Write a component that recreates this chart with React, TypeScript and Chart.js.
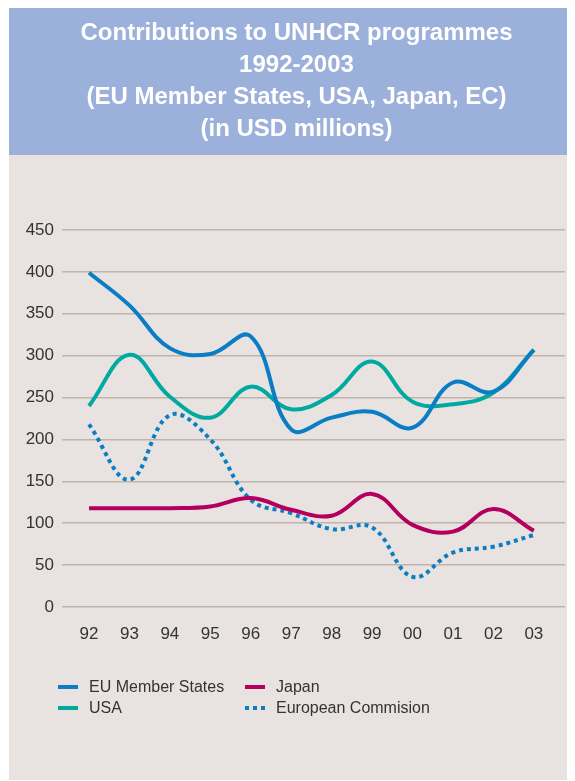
import React, { useEffect, useRef } from "react";
import { Chart, registerables } from "chart.js";

Chart.register(...registerables);

const years = ["92", "93", "94", "95", "96", "97", "98", "99", "00", "01", "02", "03"];
const euMemberStates = [399, 360, 309, 302, 323, 212, 226, 233, 214, 268, 257, 307];
const usa = [240, 301, 251, 226, 263, 236, 253, 293, 245, 242, 256, 307];
const japan = [118, 118, 118, 120, 130, 116, 109, 135, 98, 90, 117, 91];
const europeanCommision = [218, 152, 229, 200, 128, 112, 93, 95, 36, 65, 72, 86];
const yTicks = [0, 50, 100, 150, 200, 250, 300, 350, 400, 450];
const titleLines = [
  "Contributions to UNHCR programmes",
  "1992-2003",
  "(EU Member States, USA, Japan, EC)",
  "(in USD millions)",
];

const BLUE = "#0a7dc4";
const TEAL = "#00aaa0";
const MAGENTA = "#b3005e";
const BANNER = "#9bb0da";
const PANEL = "#e8e3e1";
const GRID = "#bfb3ae";
const TEXT = "#333333";
const FONT = "'Liberation Sans', Arial, sans-serif";

const toPoints = (vals: number[]) => vals.map((v, i) => ({ x: i, y: v }));

const backgroundPlugin = {
  id: "panelBackground",
  beforeDraw(chart: any) {
    const { ctx, width, height } = chart;
    ctx.save();
    ctx.fillStyle = PANEL;
    ctx.fillRect(0, 0, width, height);
    ctx.fillStyle = BANNER;
    ctx.fillRect(0, 0, width, 151);
    ctx.restore();
  },
};

const gridLegendPlugin = {
  id: "gridLegend",
  afterDraw(chart: any) {
    const { ctx } = chart;
    const order = [0, 2, 1, 3];
    const cols = [49, 236];
    const rows = [683, 704];
    ctx.save();
    ctx.font = `16px ${FONT}`;
    ctx.textBaseline = "middle";
    ctx.fillStyle = TEXT;
    order.forEach((dsIndex, k) => {
      const ds = chart.data.datasets[dsIndex];
      const col = cols[k % 2];
      const row = rows[Math.floor(k / 2)];
      ctx.save();
      ctx.strokeStyle = ds.borderColor;
      ctx.lineWidth = 4;
      ctx.lineCap = "butt";
      if (ds.borderDash && ds.borderDash.length) ctx.setLineDash(ds.borderDash);
      ctx.beginPath();
      ctx.moveTo(col, row);
      ctx.lineTo(col + 20, row);
      ctx.stroke();
      ctx.restore();
      ctx.fillStyle = TEXT;
      ctx.fillText(ds.label, col + 31, row + 1);
    });
    ctx.restore();
  },
};

export default function App() {
  const canvasRef = useRef<HTMLCanvasElement | null>(null);

  useEffect(() => {
    if (!canvasRef.current) return;
    const lineDs = (label: string, data: number[], color: string, dash?: number[]) => ({
      label,
      data: toPoints(data),
      borderColor: color,
      backgroundColor: color,
      borderWidth: 4,
      borderDash: dash || [],
      borderCapStyle: "butt" as const,
      pointRadius: 0,
      tension: 0.4,
      fill: false,
    });
    const chart = new Chart(canvasRef.current, {
      type: "line",
      data: {
        datasets: [
          lineDs("EU Member States", euMemberStates, BLUE),
          lineDs("USA", usa, TEAL),
          lineDs("Japan", japan, MAGENTA),
          lineDs("European Commision", europeanCommision, BLUE, [4, 4]),
        ],
      },
      plugins: [backgroundPlugin, gridLegendPlugin],
      options: {
        animation: false,
        responsive: false,
        maintainAspectRatio: false,
        layout: { padding: { left: 0, right: 0, top: 0, bottom: 133 } },
        plugins: {
          legend: { display: false },
          tooltip: { enabled: false },
          title: {
            display: true,
            text: titleLines,
            color: "#ffffff",
            font: { family: FONT, size: 24, weight: "bold", lineHeight: 32 / 24 },
            padding: { top: 13, bottom: 85 },
          },
        },
        scales: {
          x: {
            type: "linear",
            min: -0.667,
            max: 11.77,
            afterFit: (scale: any) => {
              scale.height = 40;
            },
            afterBuildTicks: (scale: any) => {
              scale.ticks = years.map((_, i) => ({ value: i }));
            },
            grid: { display: false, drawTicks: false },
            border: { display: false },
            ticks: {
              color: TEXT,
              font: { family: FONT, size: 17 },
              padding: 17,
              autoSkip: false,
              maxRotation: 0,
              callback: (v: any) => years[Math.round(Number(v))] ?? "",
            },
          },
          y: {
            min: 0,
            max: 450,
            afterFit: (scale: any) => {
              scale.width = 53;
            },
            afterBuildTicks: (scale: any) => {
              scale.ticks = yTicks.map((v) => ({ value: v }));
            },
            grid: { color: GRID, lineWidth: 1.5, drawTicks: false },
            border: { display: false },
            ticks: {
              color: TEXT,
              font: { family: FONT, size: 17 },
              padding: 8,
            },
          },
          yRightSpacer: {
            type: "linear",
            position: "right",
            min: 0,
            max: 450,
            afterFit: (scale: any) => {
              scale.width = 19;
            },
            grid: { display: false, drawTicks: false },
            border: { display: false },
            ticks: { display: false },
          },
        },
      },
    });
    return () => chart.destroy();
  }, []);

  return (
    <div style={{ marginLeft: 1, marginTop: -4, width: 566, height: 776, overflow: "hidden" }}>
      <canvas ref={canvasRef} width={575} height={776} style={{ display: "block" }} />
    </div>
  );
}
